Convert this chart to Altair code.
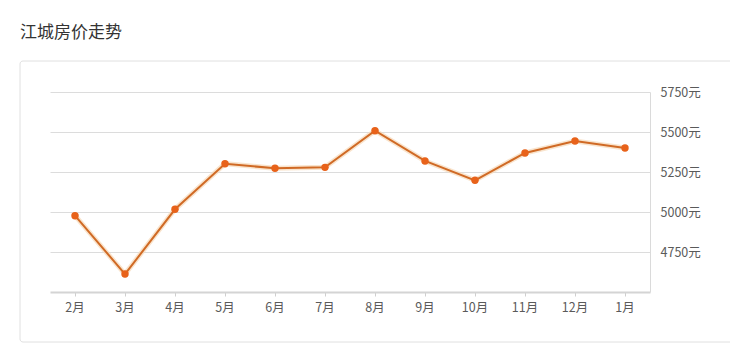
import altair as alt
import pandas as pd

months = ["2月", "3月", "4月", "5月", "6月", "7月", "8月", "9月", "10月", "11月", "12月", "1月"]
prices = [4977, 4612, 5017, 5302, 5273, 5279, 5508, 5319, 5198, 5369, 5444, 5400]
y_ticks = [4750, 5000, 5250, 5500, 5750]
title_text = "江城房价走势"

df = pd.DataFrame({"month": months, "price": prices})
one = pd.DataFrame({"t": [title_text]})

x = alt.X("month:N", sort=months,
          scale=alt.Scale(paddingInner=0, paddingOuter=0),
          axis=alt.Axis(title=None, labelAngle=0, labelFontSize=12.5, labelColor="#5a5a5a",
                        labelFont="Noto Sans CJK SC", domainColor="#d4d4d4", domainWidth=2,
                        ticks=True, tickBand="center", tickColor="#cfcfcf", tickSize=4,
                        labelPadding=5, grid=False))
y = alt.Y("price:Q", scale=alt.Scale(domain=[4500, 5750], nice=False, zero=False),
          axis=alt.Axis(title=None, orient="right", values=y_ticks, labelExpr="datum.value + '元'",
                        labelFontSize=12.5, labelColor="#5a5a5a", labelFont="Noto Sans CJK SC",
                        domainColor="#dadada", ticks=False, labelPadding=10,
                        gridColor="#dcdcdc", gridWidth=1))

line = alt.Chart(df).mark_line(color="#d06a25", strokeWidth=2).encode(x=x, y=y)
glow = alt.Chart(df).mark_line(color="#f7d9b8", strokeWidth=5, opacity=0.7).encode(x=x, y=y)
pts = alt.Chart(df).mark_point(filled=True, color="#e8621a", size=55, opacity=1).encode(x=x, y=y)

box = alt.Chart(one).mark_rect(fill=None, stroke="#e0e0e0", strokeWidth=1, cornerRadius=3).encode(
    x=alt.value(-30), x2=alt.value(700), y=alt.value(-31), y2=alt.value(250))
title = alt.Chart(one).mark_text(align="left", baseline="middle", fontSize=17,
                                 fontWeight="normal", color="#333333", font="Noto Sans CJK SC").encode(
    text="t:N", x=alt.value(-30), y=alt.value(-59))

chart = alt.layer(box, title, glow, line, pts).properties(
    width=600, height=200,
    background="white",
    autosize=alt.AutoSizeParams(type="none"),
    padding={"left": 50, "top": 92, "right": 80, "bottom": 59},
).configure_view(strokeWidth=0, stroke=None)

chart.save("out.html", embed_options={"renderer": "svg", "actions": False})
